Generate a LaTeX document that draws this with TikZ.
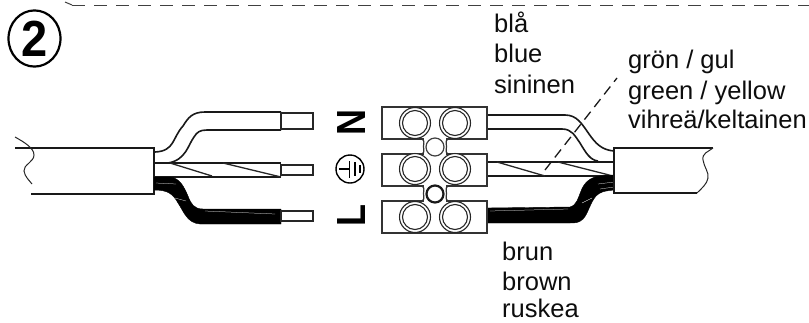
\documentclass[tikz,border=0pt]{standalone}
\usepackage{fontspec}
\setmainfont{Liberation Sans}
\tikzset{
  lbl/.style={anchor=base west,inner sep=0pt,font=\fontsize{25.5}{25.5}\selectfont,text=black!95},
  cablel/.style={line width=2.1pt,draw=black!90},
  wire/.style={line width=1.6pt,draw=black!90},
  thin wire/.style={line width=1.3pt,draw=black!85},
  band/.style={fill=black,draw=black,line width=.4pt},
  fleck/.style={draw=white,line width=.25pt},
  stub/.style={fill=white,draw=black!85,line width=1.4pt},
  termbox/.style={fill=white,draw=black!80,line width=1.2pt},
  screw/.style={fill=white,draw=black!85,line width=1.1pt},
  letter/.style={rotate=90,inner sep=0pt,yscale=1.13,font=\fontsize{36}{36}\selectfont\bfseries},
}
\begin{document}
\begin{tikzpicture}[x=1pt,y=-1pt]
\useasboundingbox (0,0) rectangle (809,322);
% top dashed edge
\coordinate (d0) at (65,2); \coordinate (d1) at (72,5); \coordinate (d2) at (809,5);
\draw[black!75,line width=1pt] (d0) -- (d1);
\draw[black!75,line width=1pt,dash pattern=on 13pt off 9pt] (d1) -- (d2);
% number
\node[circle,draw=black,line width=2.2pt,minimum size=52pt,inner sep=0pt,yscale=1.08,font=\fontsize{47}{47}\selectfont\bfseries] (num) at (34.5,38.5) {2};
% left cable
\draw[cablel] (15,148) -- (154,148) -- (154,194) -- (31,194);
\draw[line width=1pt,black!85] (15,137) .. controls (24,142) and (34,148) .. (34,155) .. controls (34,162) and (23,165) .. (24,171) .. controls (25,177) and (29,180) .. (32,184);
% left blue wire
\draw[wire] (155,152) .. controls (175,151) and (172,138) .. (183,126) .. controls (188,118) and (192,112) .. (205,112) -- (281,112);
\draw[wire] (168,163) .. controls (186,160) and (188,145) .. (194,137) .. controls (197,132) and (200,130) .. (207,130) -- (281,130);
\draw[stub] (281,113) rectangle (313,129);
% left earth wire
\draw[wire] (155,163) -- (281,163);
\draw[wire] (155,177) -- (281,177);
\draw[thin wire] (170,163) -- (212,176);
\draw[thin wire] (223,163) -- (281,177);
\draw[stub] (281,165) rectangle (313,175);
% left brown wire
\draw[band] (154,177) -- (170,177) .. controls (180,178) and (184,187) .. (188,196) .. controls (191,204) and (194,209) .. (203,209) -- (281,209) -- (281,224) -- (200,224) .. controls (187,223) and (184,212) .. (178,203) .. controls (173,194) and (168,190) .. (154,190) -- cycle;
\draw[fleck] (156,183) -- (176,184);
\draw[fleck] (175,198) -- (186,201);
\draw[fleck] (205,211) -- (275,214);
\draw[stub] (281,211) rectangle (313,221);
% rotated letters
\node[letter] (nN) at (352,122.5) {N};
\node[letter] (nL) at (352,215.5) {L};
% earth symbol
\node[circle,draw=black,line width=1.4pt,minimum size=28pt,inner sep=0pt] (earth) at (350,169) {};
\draw[line width=1.4pt] (339,169) -- (349.5,169);
\draw[line width=1.4pt] (349.5,161) -- (349.5,178);
\draw[line width=1.4pt] (355,162) -- (355,176);
\draw[line width=1.4pt] (360,165) -- (360,173);
% right wires
\draw[wire] (487,115) -- (565,115) .. controls (577,115) and (582,124) .. (589,134) .. controls (596,144) and (602,150) .. (614,151);
\draw[wire] (487,129) -- (562,129) .. controls (572,129) and (575,136) .. (580,143) .. controls (586,153) and (590,160) .. (598,161);
\draw[wire] (487,162) -- (614,162);
\draw[wire] (487,176) -- (614,176);
\draw[thin wire] (497,162) -- (545,176);
\draw[thin wire] (558,162) -- (613,176);
% right brown
\draw[band] (487,208) -- (570,207) .. controls (577,205) and (578,198) .. (581,191) .. controls (584,183) and (590,177) .. (600,176) -- (614,175) -- (614,190) .. controls (604,191) and (600,192) .. (596,196) .. controls (590,203) and (588,214) .. (583,219) .. controls (579,223) and (575,223) .. (570,223) -- (487,223) -- cycle;
\draw[fleck] (490,211) -- (568,209);
\draw[fleck] (582,203) -- (592,198);
\draw[fleck] (598,184) -- (614,182);
\draw[fleck] (600,189) -- (614,187);
% right cable
\draw[cablel,fill=white] (697,193) -- (614,193) -- (614,148) -- (713,148);
\draw[line width=1pt,black!85] (713,148) .. controls (708,152) and (702,153) .. (703,160) .. controls (704,167) and (709,172) .. (708,178) .. controls (707,184) and (702,188) .. (697,193);
% leader
\coordinate (l0) at (545,170); \coordinate (l1) at (617,78);
\draw[black!90,line width=1.3pt,dash pattern=on 10pt off 6pt] (l0) -- (l1);
% terminal block
\draw[termbox] (382,107) rectangle (487,139);
\draw[termbox] (382,154) rectangle (487,186);
\draw[termbox] (382,201) rectangle (487,233);
\draw[line width=1.6pt,black!80] (382.5,208) -- (382.5,222);
% necks
\fill[white] (424,137) rectangle (446,156);
\fill[white] (424,184) rectangle (446,203);
\draw[black!80,line width=1.2pt] (422,139) .. controls (425,141) and (423.5,143) .. (423.5,146.5) .. controls (423.5,150) and (425,152) .. (422,154);
\draw[black!80,line width=1.2pt] (448,139) .. controls (445,141) and (446.5,143) .. (446.5,146.5) .. controls (446.5,150) and (445,152) .. (448,154);
\draw[black!80,line width=1.2pt] (422,186) .. controls (425,188) and (423.5,190) .. (423.5,193.5) .. controls (423.5,197) and (425,199) .. (422,201);
\draw[black!80,line width=1.2pt] (448,186) .. controls (445,188) and (446.5,190) .. (446.5,193.5) .. controls (446.5,197) and (445,199) .. (448,201);
\node[circle,draw=black!75,line width=1.2pt,fill=white,minimum size=18pt,inner sep=0pt] (m1) at (435,147) {};
\node[circle,draw=black!90,line width=2.2pt,fill=white,minimum size=17pt,inner sep=0pt] (m2) at (435,194) {};
% screws
\foreach \n/\x/\y in {a/415/123,b/455/123,c/415/169,d/455/169,e/415/217,f/455/217}{
  \node[circle,screw,minimum size=31pt,inner sep=0pt] (o\n) at (\x,\y) {};
  \node[circle,screw,minimum size=25pt,inner sep=0pt] (i\n) at (\x,\y) {};
}
% labels
\node[lbl] (t1) at (494,32) {blå};
\node[lbl] (t2) at (494,62) {blue};
\node[lbl] (t3) at (494,93) {sininen};
\node[lbl] (t4) at (628,68) {grön / gul};
\node[lbl] (t5) at (628,99) {green / yellow};
\node[lbl] (t6) at (628,128) {vihreä/keltainen};
\node[lbl] (t7) at (502,260) {brun};
\node[lbl] (t8) at (502,290) {brown};
\node[lbl] (t9) at (502,317.5) {ruskea};
\end{tikzpicture}
\end{document}
